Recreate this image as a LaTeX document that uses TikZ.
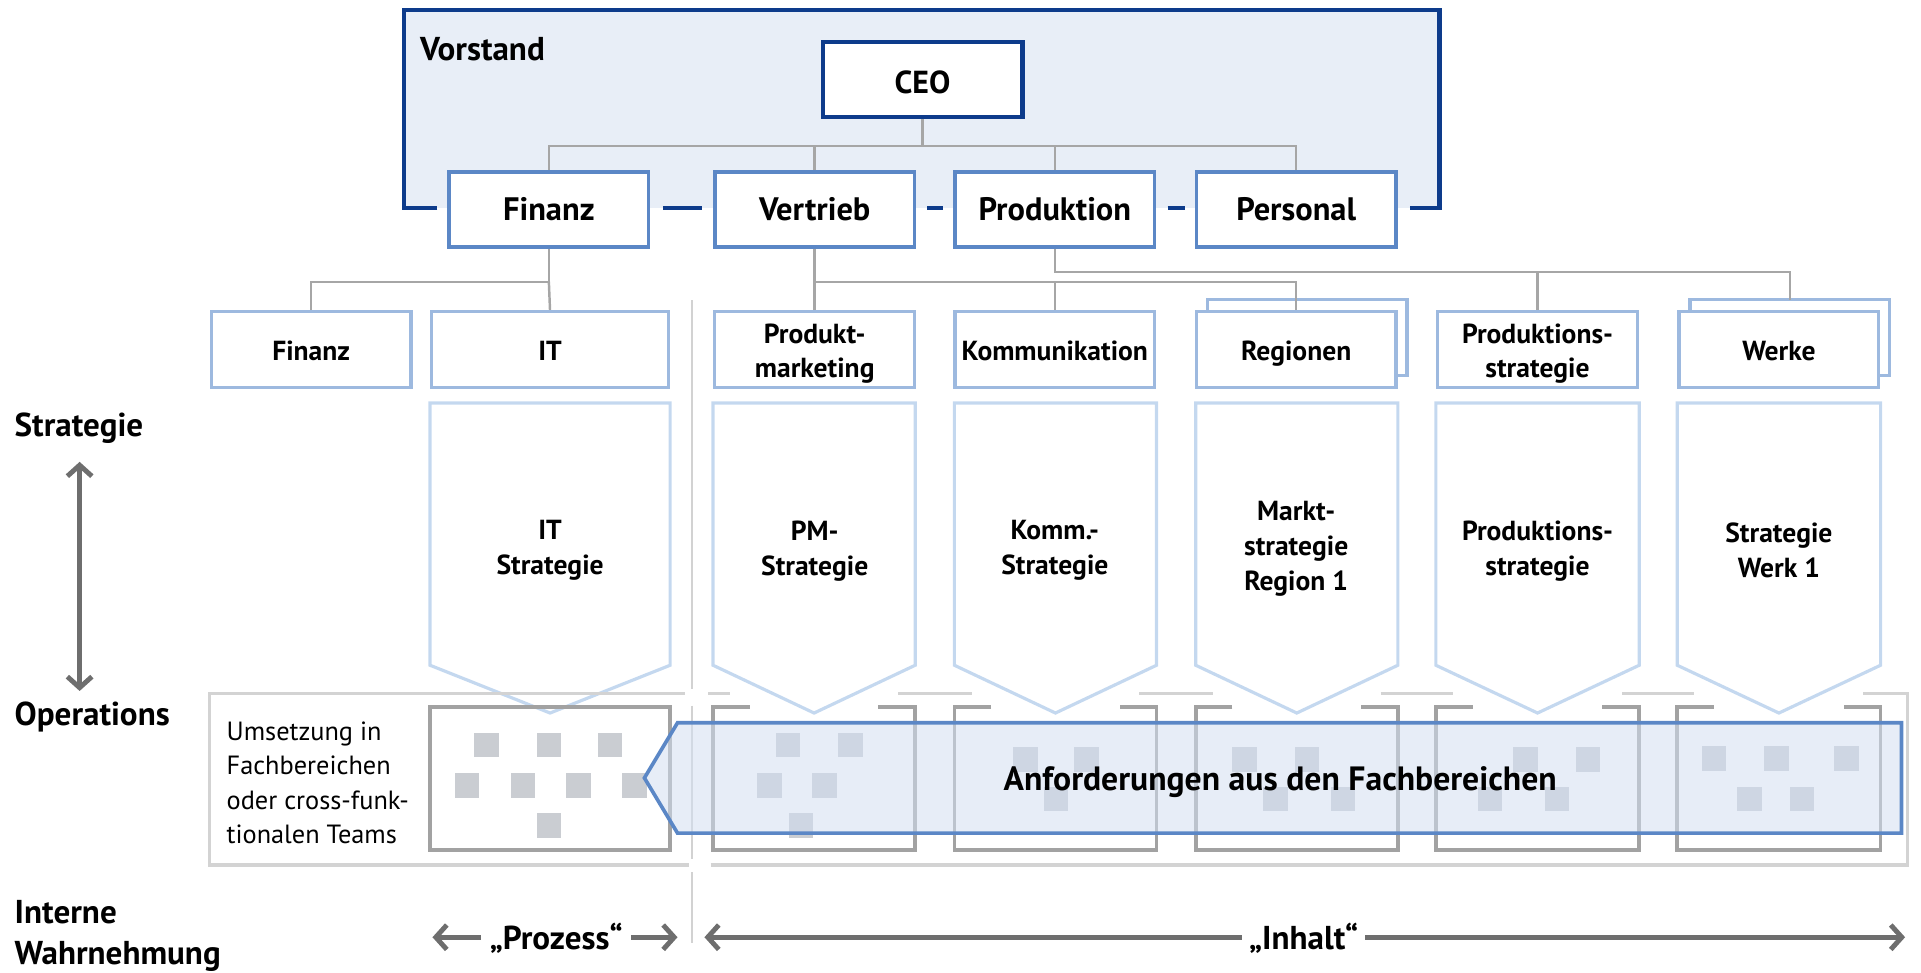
\documentclass[tikz,border=0pt]{standalone}
\usepackage{fontspec}
\setmainfont{PT Sans}
\usetikzlibrary{arrows.meta}

\definecolor{vsfill}{HTML}{E8EEF7}
\definecolor{vsline}{HTML}{0D3B8B}
\definecolor{lvone}{HTML}{5B87C6}
\definecolor{lvtwo}{HTML}{9DB9DF}
\definecolor{strat}{HTML}{C4D8EF}
\definecolor{conn}{HTML}{A6A6A6}
\definecolor{opsframe}{HTML}{D3D3D3}
\definecolor{unitline}{HTML}{A2A2A2}
\definecolor{sq}{HTML}{CACDD2}
\definecolor{reqfill}{HTML}{D3DFF1}
\definecolor{reqline}{HTML}{5B87C6}
\definecolor{sep}{HTML}{D2D2D2}
\definecolor{arr}{HTML}{6E6E6E}

\pgfdeclarelayer{bg}
\pgfdeclarelayer{wires}
\pgfsetlayers{bg,wires,main}

% box caption, set a little below the box centre
\newcommand\deptlabel[1]{\raisebox{-3pt}[\height][\depth]{\begin{tabular}{@{}c@{}}#1\end{tabular}}}

\begin{document}
\begin{tikzpicture}[x=1pt,y=-1pt,
  >={Straight Barb[length=9pt,width=20pt]},
  every node/.style={inner sep=0pt,outer sep=0pt},
  vsbox/.style={draw=vsline,line width=3.5pt,fill=white,minimum width=163pt,minimum height=61pt,font=\fontsize{26}{30}\selectfont\bfseries},
  headbox/.style={draw=lvone,line width=2.8pt,fill=white,minimum width=163pt,minimum height=61pt,font=\fontsize{26.5}{30}\selectfont\bfseries},
  unitbox/.style={draw=lvtwo,line width=2.6pt,fill=white,minimum width=163pt,minimum height=62pt,font=\fontsize{22.5}{28}\selectfont\bfseries},
  link/.style={draw=conn,line width=2pt},
  stratline/.style={draw=strat,line width=2.6pt},
  strattext/.style={align=center,font=\fontsize{22.5}{28.5}\selectfont\bfseries},
  opsline/.style={draw=opsframe,line width=3pt},
  teamline/.style={draw=unitline,line width=3pt},
  tag/.style={font=\fontsize{27}{33}\selectfont\bfseries},
  arrline/.style={draw=arr,line width=4pt},
]
\useasboundingbox (0,0) rectangle (1568,794);

% board frame
\begin{pgfonlayer}{bg}
  \fill[vsfill] (330,8) rectangle (1175,170);
\end{pgfonlayer}
\draw[draw=vsline,line width=3.5pt] (357,170) -- (330,170) -- (330,8) -- (1175,8) -- (1175,170) -- (1151,170);
\draw[draw=vsline,line width=3.5pt] (541,170) -- (573,170) (757,170) -- (770,170) (953,170) -- (967,170);
\node[tag,anchor=base west] (vorstand) at (343,49) {Vorstand};

% board members
\node[vsbox] (ceo) at (753,65) {\raisebox{-2pt}[\height][\depth]{CEO}};
\node[headbox] (fin1) at (448,171) {Finanz};
\node[headbox] (ver) at (665,171) {Vertrieb};
\node[headbox] (pro) at (861,171) {Produktion};
\node[headbox] (per) at (1058,171) {Personal};

% departments (stacked ones have a box behind)
\begin{pgfonlayer}{bg}
  \node[unitbox] (regback) at (1067,275.5) {};
  \node[unitbox] (werkeback) at (1461,275.5) {};
\end{pgfonlayer}
\node[unitbox] (fin3) at (254,285.5) {\deptlabel{Finanz}};
\node[unitbox,minimum width=193.5pt] (it) at (449,285.5) {\deptlabel{IT}};
\node[unitbox] (pm) at (665,285.5) {\deptlabel{Produkt-\\marketing}};
\node[unitbox] (komm) at (861,285.5) {\deptlabel{Kommunikation}};
\node[unitbox] (reg) at (1058,285.5) {\deptlabel{Regionen}};
\node[unitbox] (prodst) at (1255,285.5) {\deptlabel{Produktions-\\strategie}};
\node[unitbox] (werke) at (1452,285.5) {\deptlabel{Werke}};

% reporting lines
\coordinate (bus0) at (753,119);
\coordinate (busF) at (448,230);
\coordinate (busV) at (665,230);
\coordinate (busP) at (861,222);
\begin{pgfonlayer}{wires}
  \draw[link] (ceo.south) -- (bus0);
  \draw[link] (bus0) -| (fin1.north);
  \draw[link] (bus0) -| (ver.north);
  \draw[link] (bus0) -| (pro.north);
  \draw[link] (bus0) -| (per.north);
  \draw[link] (fin1.south) -- (busF) -| (fin3.north);
  \draw[link] (busF) -- (it.north);
  \draw[link] (ver.south) -- (busV) -- (pm.north);
  \draw[link] (busV) -| (komm.north);
  \draw[link] (busV) -| (reg.north);
  \draw[link] (pro.south) -- (busP) -| (prodst.north);
  \draw[link] (busP) -| (werkeback.north);
\end{pgfonlayer}

% strategy arrows
\foreach \a/\b in {351/547, 582/747, 779/944, 976/1141, 1172/1338, 1369/1535}
  \draw[stratline] (\a,329) -- (\b,329) -- (\b,543) -- ({(\a+\b)/2},582) -- (\a,543) -- cycle;
\node[strattext] (sit) at (449,449.5) {IT\\Strategie};
\node[strattext] (spm) at (665,449.5) {PM-\\Strategie};
\node[strattext] (skomm) at (861,449.5) {Komm.-\\Strategie};
\node[strattext] (sreg) at (1058,448) {Markt-\\strategie\\Region 1};
\node[strattext] (sprod) at (1255,449.5) {Produktions-\\strategie};
\node[strattext] (swerk) at (1452,449.5) {Strategie\\Werk 1};

% divider between process and content
\draw[draw=sep,line width=2pt] (565,245) -- (565,562) (565,576) -- (565,701) (565,712) -- (565,770);

% operations frame
\draw[opsline] (559,566) -- (171,566) -- (171,706) -- (562,706);
\draw[opsline] (580,706) -- (1557,706) -- (1557,566) -- (1521,566);
\draw[opsline] (578,566) -- (596,566) (733,566) -- (793,566) (930,566) -- (990,566)
  (1127,566) -- (1186,566) (1324,566) -- (1383,566);
\node[anchor=west,align=left,font=\fontsize{21.5}{28}\selectfont] (umsetzung) at (185,639)
  {Umsetzung in\\Fachbereichen\\oder cross-funk-\\tionalen Teams};

% teams
\draw[teamline] (351,577) rectangle (547,694);
\foreach \a/\b in {582/747, 779/944, 976/1141, 1172/1338, 1369/1535}
  \draw[teamline] (\a+30,577) -- (\a,577) -- (\a,694) -- (\b,694) -- (\b,577) -- (\b-30,577);
\foreach \x/\y in {397/608, 448/608, 498/608, 381/641, 427/641, 472/641, 518/641, 448/674,
  643/608, 694/608, 628/641, 673/641, 654/674,
  837/620, 887/620, 862/652,
  1016/620, 1067/620, 1041/652, 1096/652,
  1245/620, 1296/620, 1216/652, 1271/652,
  1399/619, 1450/619, 1507/619, 1428/652, 1471/652}
  \fill[sq] (\x-10,\y-10) rectangle (\x+10,\y+10);

% requirements from the departments
\fill[reqfill,fill opacity=0.55] (526,635) -- (553,590) -- (1552,590) -- (1552,680) -- (553,680) -- cycle;
\draw[draw=reqline,line width=3pt] (526,635) -- (553,590) -- (1552,590) -- (1552,680) -- (553,680) -- cycle;
\node[font=\fontsize{27.5}{30}\selectfont\bfseries] (req) at (1045,638) {Anforderungen aus den Fachbereichen};

% row labels
\node[tag,anchor=base west] (lstrat) at (12,356) {Strategie};
\node[tag,anchor=base west] (lops) at (12,592) {Operations};
\node[tag,anchor=west,align=left] (lwahr) at (12,764) {Interne\\Wahrnehmung};
\coordinate (vtop) at (65,377);
\coordinate (vbot) at (65,564);
\draw[arrline,<->] (vtop) -- (vbot);

% perception arrows
\node[tag,inner xsep=7pt] (proz) at (454,766) {„Prozess“};
\coordinate (pl) at (353,765);
\coordinate (pr) at (553,765);
\draw[arrline,->] (proz.west |- pl) -- (pl);
\draw[arrline,->] (proz.east |- pr) -- (pr);
\node[tag,inner xsep=6pt] (inh) at (1064,766) {„Inhalt“};
\coordinate (il) at (575,765);
\coordinate (ir) at (1555,765);
\draw[arrline,->] (inh.west |- il) -- (il);
\draw[arrline,->] (inh.east |- ir) -- (ir);
\end{tikzpicture}
\end{document}
